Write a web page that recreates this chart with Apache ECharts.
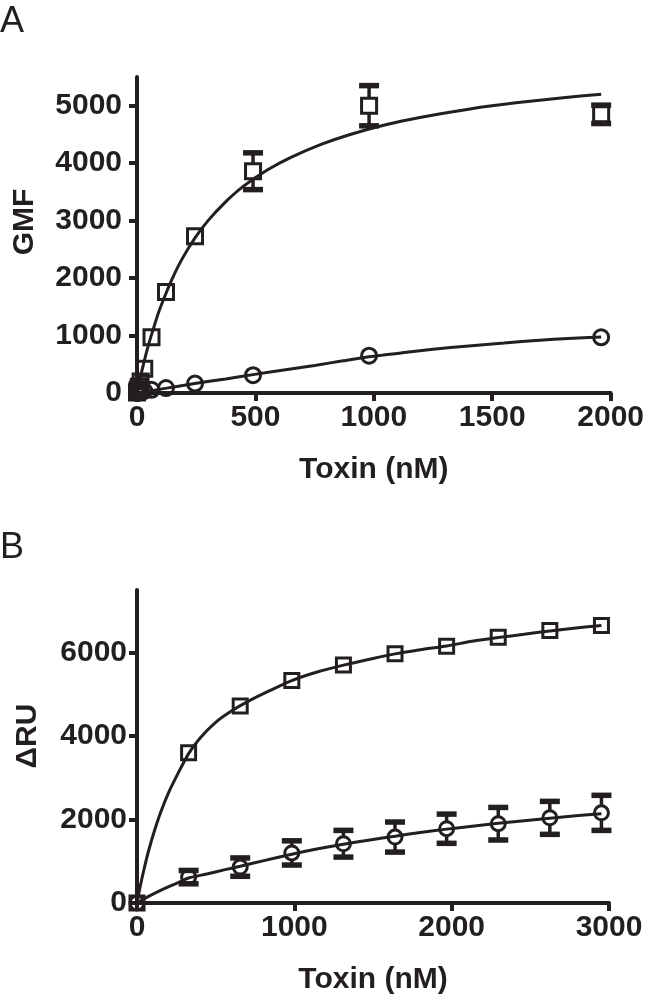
<!DOCTYPE html>
<html><head><meta charset="utf-8">
<script src="https://cdn.jsdelivr.net/npm/echarts@6/dist/echarts.min.js"></script>
<style>html,body{margin:0;padding:0;background:#fff}#c{width:647px;height:1001px}</style>
</head><body><div id="c"></div>
<script>
// ---- Panel A data ----
const aX = [0, 1.9, 3.8, 7.7, 15.3, 30.6, 61.25, 122.5, 245, 490, 980, 1960];
const aSquare = [10, 30, 60, 110, 200, 420, 970, 1760, 2730, 3860, 5000, 4850];
const aSquareErr = [0, 0, 0, 0, 0, 0, 0, 0, 0, 320, 350, 160];
const aCircle = [0, 5, 10, 15, 25, 35, 55, 85, 165, 310, 650, 970];
const aCircleErr = [0, 0, 0, 0, 0, 0, 0, 0, 0, 0, 0, 0];
const aSqFitX = [0, 10, 20, 35, 50, 70, 90, 120, 150, 190, 245, 300, 370, 450, 550, 650, 780, 900, 1050, 1200, 1400, 1600, 1800, 1960];
const aSqFitY = [0, 190, 375, 630, 860, 1130, 1390, 1710, 2000, 2330, 2700, 3000, 3310, 3600, 3880, 4100, 4330, 4500, 4670, 4800, 4940, 5050, 5140, 5200];
const aCiFitX = [0, 125, 250, 375, 490, 620, 750, 870, 980, 1120, 1250, 1400, 1550, 1700, 1820, 1960];
const aCiFitY = [0, 85, 170, 245, 320, 400, 480, 560, 630, 700, 760, 820, 870, 920, 950, 975];
const aXTicks = [0, 500, 1000, 1500, 2000];
const aYTicks = [0, 1000, 2000, 3000, 4000, 5000];

// ---- Panel B data ----
const bX = [0, 328, 656, 984, 1312, 1640, 1968, 2296, 2624, 2952];
const bSquare = [0, 3600, 4720, 5330, 5700, 5970, 6150, 6370, 6530, 6650];
const bSquareErr = [0, 0, 0, 0, 0, 0, 0, 0, 0, 0];
const bCircle = [0, 620, 860, 1200, 1420, 1580, 1780, 1900, 2040, 2160];
const bCircleErr = [0, 160, 220, 290, 320, 360, 350, 390, 395, 420];
const bSqFitX = [0, 20, 45, 75, 110, 150, 200, 260, 328, 400, 500, 600, 700, 850, 984, 1150, 1312, 1500, 1640, 1800, 1968, 2130, 2296, 2460, 2624, 2790, 2952];
const bSqFitY = [0, 390, 815, 1270, 1720, 2170, 2640, 3100, 3580, 3950, 4330, 4600, 4820, 5100, 5330, 5540, 5700, 5860, 5970, 6070, 6160, 6270, 6360, 6440, 6520, 6590, 6650];
const bCiFitX = [0, 80, 160, 250, 328, 450, 560, 656, 800, 984, 1150, 1312, 1480, 1640, 1800, 1968, 2130, 2296, 2460, 2624, 2790, 2952];
const bCiFitY = [0, 170, 320, 470, 600, 700, 800, 880, 1010, 1170, 1300, 1410, 1510, 1600, 1690, 1770, 1840, 1910, 1970, 2030, 2090, 2140];
const bXTicks = [0, 1000, 2000, 3000];
const bYTicks = [0, 2000, 4000, 6000];

const INK = '#231f20';
const FONT = '"Liberation Sans", Arial, Helvetica, sans-serif';

const zip2 = (xs, ys) => xs.map((x, i) => [x, ys[i]]);
const zip3 = (xs, ys, es) => xs.map((x, i) => [x, ys[i], es[i]]);

function errRender(half, hw) {
  return function (params, api) {
    const x = api.value(0), y = api.value(1), e = api.value(2);
    const ch = [];
    if (!(e > 0)) return { type: 'group', children: ch };
    const c = api.coord([x, y]);
    const t = api.coord([x, y + e]);
    const b = api.coord([x, y - e]);
    const ls = { stroke: INK, lineWidth: 3.5 };
    const cs = { stroke: INK, lineWidth: 5.5 };
    if (c[1] - t[1] > half) {
      ch.push({ type: 'line', shape: { x1: c[0], y1: t[1], x2: c[0], y2: c[1] - half }, style: ls });
    }
    ch.push({ type: 'line', shape: { x1: c[0] - hw, y1: t[1], x2: c[0] + hw, y2: t[1] }, style: cs });
    if (b[1] - c[1] > half) {
      ch.push({ type: 'line', shape: { x1: c[0], y1: c[1] + half, x2: c[0], y2: b[1] }, style: ls });
    }
    ch.push({ type: 'line', shape: { x1: c[0] - hw, y1: b[1], x2: c[0] + hw, y2: b[1] }, style: cs });
    return { type: 'group', children: ch };
  };
}

const plain = v => String(v);

function xAxisCfg(gi, max, interval, ticks, margin) {
  return {
    gridIndex: gi, type: 'value', min: 0, max: max, interval: interval,
    name: 'Toxin (nM)', nameLocation: 'middle', nameGap: 62,
    nameTextStyle: { fontFamily: FONT, fontWeight: 'bold', fontSize: 30, color: INK },
    axisLine: { onZero: false, lineStyle: { color: INK, width: 4 } },
    axisTick: { show: true, length: 8, lineStyle: { color: INK, width: 4 }, customValues: ticks },
    axisLabel: { margin: margin, fontFamily: FONT, fontWeight: 'bold', fontSize: 30, color: INK, customValues: ticks, formatter: plain },
    splitLine: { show: false }
  };
}
function yAxisCfg(gi, max, interval, ticks, margin) {
  return {
    gridIndex: gi, type: 'value', min: 0, max: max, interval: interval,
    axisLine: { onZero: false, lineStyle: { color: INK, width: 4 } },
    axisTick: { show: true, length: 8, lineStyle: { color: INK, width: 4 }, customValues: ticks },
    axisLabel: { margin: margin, fontFamily: FONT, fontWeight: 'bold', fontSize: 30, color: INK, customValues: ticks, formatter: plain },
    splitLine: { show: false }
  };
}
function fit(xi, data) {
  return { type: 'line', xAxisIndex: xi, yAxisIndex: xi, data: data, smooth: 0.25,
    showSymbol: false, silent: true, lineStyle: { color: INK, width: 3 }, z: 2, clip: false };
}
function marks(xi, data, sym, size) {
  return { type: 'scatter', xAxisIndex: xi, yAxisIndex: xi, data: data, symbol: sym, symbolSize: size,
    itemStyle: { color: 'rgba(255,255,255,0)', borderColor: INK, borderWidth: 3, opacity: 1 }, z: 4, clip: false };
}
function errs(xi, data, half, hw) {
  return { type: 'custom', xAxisIndex: xi, yAxisIndex: xi, data: data, renderItem: errRender(half, hw), z: 3, clip: false };
}

const chart = echarts.init(document.getElementById('c'), null, { renderer: 'canvas' });
chart.setOption({
  backgroundColor: '#fff',
  animation: false,
  grid: [
    { left: 137, top: 77, width: 475, height: 316 },
    { left: 137, top: 590, width: 472, height: 313 }
  ],
  xAxis: [xAxisCfg(0, 2000, 500, aXTicks, 10), xAxisCfg(1, 3000, 1000, bXTicks, 10)],
  yAxis: [yAxisCfg(0, 5500, 1000, aYTicks, 15), yAxisCfg(1, 7500, 1000, bYTicks, 10)],
  graphic: [
    { type: 'text', left: 0, top: 4, style: { text: 'A', font: '36px ' + FONT, fill: INK } },
    { type: 'text', left: 0, top: 530, style: { text: 'B', font: '36px ' + FONT, fill: INK } },
    { type: 'text', x: 25, y: 222, rotation: Math.PI / 2,
      style: { text: 'GMF', font: 'bold 30px ' + FONT, fill: INK, textAlign: 'center', textVerticalAlign: 'middle' } },
    { type: 'text', x: 28, y: 736, rotation: Math.PI / 2,
      style: { text: 'ΔRU', font: 'bold 30px ' + FONT, fill: INK, textAlign: 'center', textVerticalAlign: 'middle' } }
  ],
  series: [
    fit(0, zip2(aSqFitX, aSqFitY)),
    fit(0, zip2(aCiFitX, aCiFitY)),
    errs(0, zip3(aX, aSquare, aSquareErr), 7.5, 10),
    errs(0, zip3(aX, aCircle, aCircleErr), 7.5, 10),
    marks(0, zip2(aX, aSquare), 'rect', 15),
    marks(0, zip2(aX, aCircle), 'circle', 15),
    fit(1, zip2(bSqFitX, bSqFitY)),
    fit(1, zip2(bCiFitX, bCiFitY)),
    errs(1, zip3(bX, bSquare, bSquareErr), 7, 10),
    errs(1, zip3(bX, bCircle, bCircleErr), 7, 10),
    marks(1, zip2(bX, bSquare), 'rect', 14),
    marks(1, zip2(bX, bCircle), 'circle', 14)
  ]
});
</script>
</body></html>
